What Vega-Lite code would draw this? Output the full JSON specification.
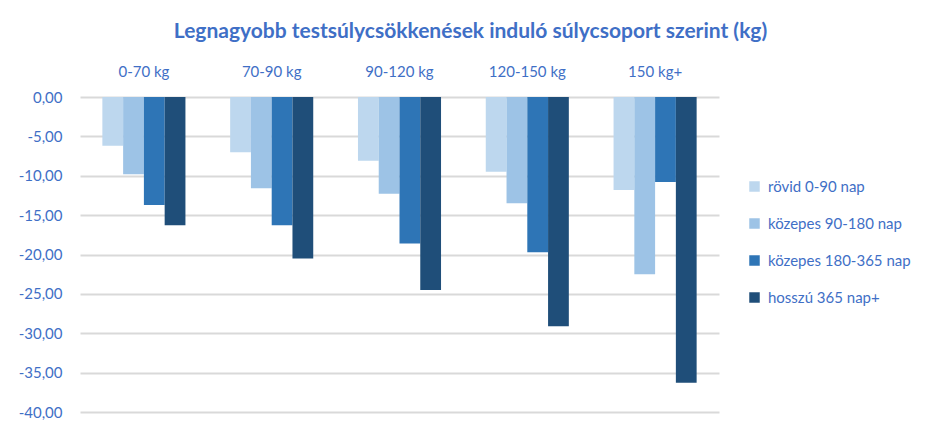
{
  "$schema": "https://vega.github.io/schema/vega-lite/v6.json",
  "autosize": {"type": "none"},
  "padding": {"left": 80, "top": 97, "right": 221, "bottom": 23},
  "width": 639,
  "height": 315,
  "background": "white",
  "title": {
    "text": "Legnagyobb testsúlycsökkenések induló súlycsoport szerint (kg)",
    "anchor": "middle",
    "dx": 71,
    "offset": 22,
    "font": "Lato",
    "fontSize": 21,
    "fontWeight": "bold",
    "color": "#3F6FC6"
  },
  "data": {
    "values": [
      {"group": "0-70 kg", "period": "rövid 0-90 nap", "value": -6.2},
      {"group": "0-70 kg", "period": "közepes 90-180 nap", "value": -9.8},
      {"group": "0-70 kg", "period": "közepes 180-365 nap", "value": -13.7},
      {"group": "0-70 kg", "period": "hosszú 365 nap+", "value": -16.3},
      {"group": "70-90 kg", "period": "rövid 0-90 nap", "value": -7.0},
      {"group": "70-90 kg", "period": "közepes 90-180 nap", "value": -11.6},
      {"group": "70-90 kg", "period": "közepes 180-365 nap", "value": -16.3},
      {"group": "70-90 kg", "period": "hosszú 365 nap+", "value": -20.5},
      {"group": "90-120 kg", "period": "rövid 0-90 nap", "value": -8.1},
      {"group": "90-120 kg", "period": "közepes 90-180 nap", "value": -12.3},
      {"group": "90-120 kg", "period": "közepes 180-365 nap", "value": -18.6},
      {"group": "90-120 kg", "period": "hosszú 365 nap+", "value": -24.5},
      {"group": "120-150 kg", "period": "rövid 0-90 nap", "value": -9.5},
      {"group": "120-150 kg", "period": "közepes 90-180 nap", "value": -13.5},
      {"group": "120-150 kg", "period": "közepes 180-365 nap", "value": -19.7},
      {"group": "120-150 kg", "period": "hosszú 365 nap+", "value": -29.1},
      {"group": "150 kg+", "period": "rövid 0-90 nap", "value": -11.8},
      {"group": "150 kg+", "period": "közepes 90-180 nap", "value": -22.5},
      {"group": "150 kg+", "period": "közepes 180-365 nap", "value": -10.8},
      {"group": "150 kg+", "period": "hosszú 365 nap+", "value": -36.3}
    ]
  },
  "mark": {"type": "bar"},
  "encoding": {
    "x": {
      "field": "group",
      "type": "nominal",
      "sort": ["0-70 kg", "70-90 kg", "90-120 kg", "120-150 kg", "150 kg+"],
      "scale": {"paddingInner": 0.35, "paddingOuter": 0.175},
      "axis": {
        "orient": "top",
        "title": null,
        "domain": false,
        "ticks": false,
        "labelAngle": 0,
        "labelPadding": 18,
        "labelFont": "Lato",
        "labelFontSize": 15,
        "labelColor": "#3F6FC6"
      }
    },
    "xOffset": {
      "field": "period",
      "type": "nominal",
      "sort": ["rövid 0-90 nap", "közepes 90-180 nap", "közepes 180-365 nap", "hosszú 365 nap+"],
      "scale": {"paddingInner": 0, "paddingOuter": 0}
    },
    "y": {
      "field": "value",
      "type": "quantitative",
      "scale": {"domain": [-40, 0], "nice": false},
      "axis": {
        "title": null,
        "values": [0, -5, -10, -15, -20, -25, -30, -35, -40],
        "labelExpr": "(datum.value < 0 ? '-' : '') + replace(format(abs(datum.value), '.2f'), '.', ',')",
        "domain": false,
        "ticks": false,
        "labelPadding": 18,
        "labelFont": "Lato",
        "labelFontSize": 15,
        "labelColor": "#3F6FC6",
        "gridColor": "#D9D9D9",
        "gridWidth": 2
      }
    },
    "color": {
      "field": "period",
      "type": "nominal",
      "sort": ["rövid 0-90 nap", "közepes 90-180 nap", "közepes 180-365 nap", "hosszú 365 nap+"],
      "scale": {
        "domain": ["rövid 0-90 nap", "közepes 90-180 nap", "közepes 180-365 nap", "hosszú 365 nap+"],
        "range": ["#BDD7EE", "#9DC3E6", "#2E75B6", "#1F4E79"]
      },
      "legend": {
        "title": null,
        "orient": "none",
        "legendX": 667,
        "legendY": 82,
        "symbolType": "square",
        "symbolSize": 110,
        "symbolStrokeWidth": 0,
        "rowPadding": 21,
        "labelFont": "Lato",
        "labelFontSize": 15,
        "labelColor": "#3F6FC6",
        "labelOffset": 6
      }
    }
  },
  "config": {
    "view": {"stroke": null},
    "bar": {"opacity": 1}
  }
}
